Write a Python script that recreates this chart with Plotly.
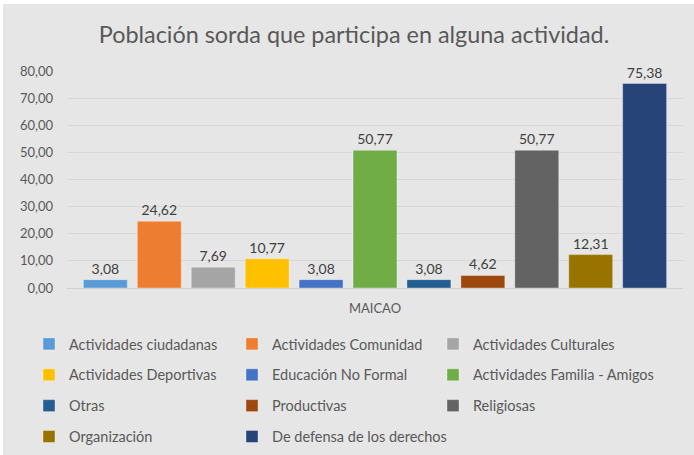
import plotly.graph_objects as go

title_text = "Población sorda que participa en alguna actividad."
category = ["MAICAO"]
series_names = [
    "Actividades ciudadanas", "Actividades Comunidad", "Actividades Culturales",
    "Actividades Deportivas", "Educación No Formal", "Actividades Familia - Amigos",
    "Otras", "Productivas", "Religiosas",
    "Organización", "De defensa de los derechos",
]
series_values = [3.08, 24.62, 7.69, 10.77, 3.08, 50.77, 3.08, 4.62, 50.77, 12.31, 75.38]
series_colors = [
    "#5B9BD5", "#ED7D31", "#A5A5A5", "#FFC000", "#4472C4", "#70AD47",
    "#255E91", "#9E480E", "#636363", "#997300", "#264478",
]
y_ticks = [0, 10, 20, 30, 40, 50, 60, 70, 80]

W, H = 694, 455
L, R, T, B = 67, 11, 71, 167
pw, ph = W - L - R, H - T - B
FONT = "Lato"
BG = "#e6e6e6"
TXT = "#595959"

def px_x(p):
    return (p - L) / pw

def px_y(p):
    return (H - B - p) / ph

fig = go.Figure()
legend_ids = ["legend", "legend2", "legend3"]
for i, (name, val, col) in enumerate(zip(series_names, series_values, series_colors)):
    fig.add_trace(go.Bar(
        x=category, y=[val], name=name,
        marker=dict(color=col, line=dict(color="rgba(255,255,255,0.35)", width=1)),
        texttemplate="%{y:.2f}", textposition="outside", cliponaxis=False,
        textfont=dict(family=FONT, size=14, color="#404040"),
        legend=legend_ids[i % 3], legendgroup="g%d" % i,
    ))

col_x = [29, 232, 433]
legend_common = dict(
    orientation="v", xanchor="left", yanchor="top", bgcolor="rgba(0,0,0,0)",
    font=dict(family=FONT, size=14.5, color=TXT), itemwidth=30,
    traceorder="grouped", tracegroupgap=9,
)
legends = {}
for k, lid in enumerate(legend_ids):
    legends[lid] = dict(legend_common, x=px_x(col_x[k]), y=px_y(328))

fig.update_layout(
    width=W, height=H,
    margin=dict(l=L, r=R, t=T, b=B, pad=0, autoexpand=False),
    paper_bgcolor=BG, plot_bgcolor=BG,
    separators=",.",
    barmode="group", bargap=0.037, bargroupgap=0.185,
    title=dict(text=title_text, x=0.51, xanchor="center", y=1 - 35 / H, yanchor="middle",
               font=dict(family=FONT, size=23.4, color=TXT)),
    xaxis=dict(showgrid=False, showline=True, linecolor="#d0d0d0", linewidth=1,
               tickfont=dict(family=FONT, size=13, color=TXT), ticks="",
               ticklabelstandoff=8, automargin=False),
    yaxis=dict(range=[0, 80], tickvals=y_ticks, tickformat=".2f", showgrid=True,
               gridcolor="#d8d8d8", gridwidth=1, zeroline=False, showline=False,
               tickfont=dict(family=FONT, size=13, color=TXT), ticks="",
               ticklabelstandoff=13, automargin=False),
    showlegend=True,
    **legends,
    shapes=[
        dict(type="rect", xref="paper", yref="paper", x0=px_x(-5), x1=px_x(W + 5),
             y0=px_y(4), y1=px_y(-5), fillcolor="white", line=dict(width=0), layer="below"),
        dict(type="rect", xref="paper", yref="paper", x0=px_x(-5), x1=px_x(3),
             y0=px_y(H + 5), y1=px_y(-5), fillcolor="white", line=dict(width=0), layer="below"),
    ],
)

fig.write_html("out.html", config={"displayModeBar": False},
               post_script="document.body.style.margin='0px';")
